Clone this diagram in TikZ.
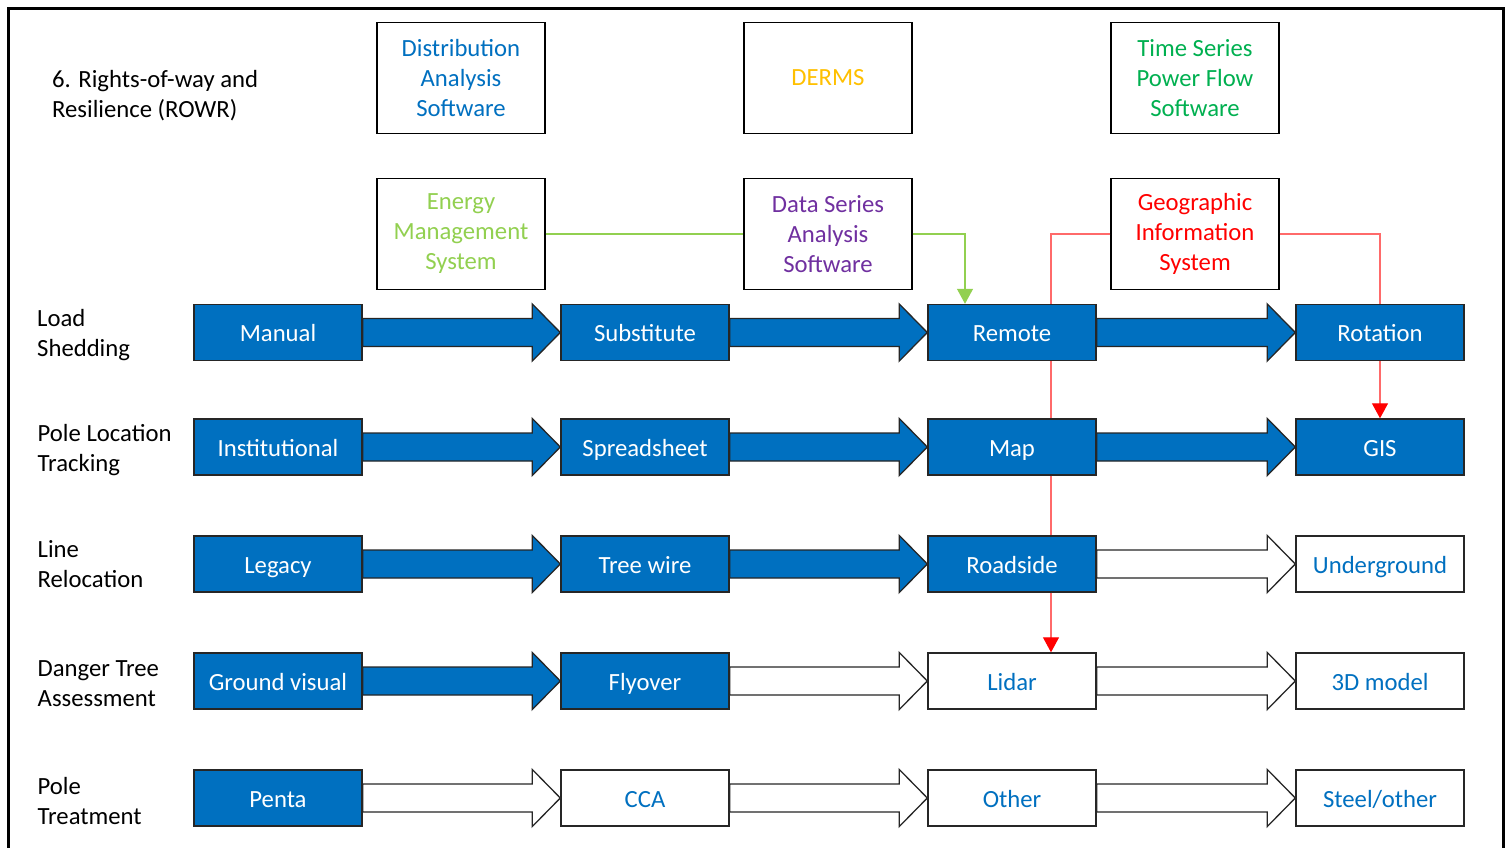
\documentclass[tikz,border=0pt]{standalone}
\usepackage{fontspec}
\setmainfont{Carlito}
\usetikzlibrary{calc,arrows.meta}
\definecolor{stageblue}{HTML}{0070C0}
\definecolor{dermsyellow}{HTML}{FFC000}
\definecolor{tsgreen}{HTML}{00B050}
\definecolor{emsgreen}{HTML}{92D050}
\definecolor{dsapurple}{HTML}{7030A0}
\definecolor{gisred}{HTML}{FF0000}
\definecolor{gisline}{HTML}{FF6A6A}

% block arrow from the east side of #2 to the west side of #3
\newcommand{\stagearrow}[3]{%
  \draw[#1] ($(#2.east)+(0,-14)$) -- ($(#3.west)+(-28,-14)$)
    -- ($(#3.west)+(-28,-28.5)$) -- (#3.west) -- ($(#3.west)+(-28,28.5)$)
    -- ($(#3.west)+(-28,14)$) -- ($(#2.east)+(0,14)$) -- cycle;}

\tikzset{
  topbox/.style={draw=black, line width=1.3pt, fill=white, minimum width=168pt,
    minimum height=111pt, align=center, inner sep=0pt},
  stagebox/.style={draw=black!85, line width=1.4pt, fill=stageblue, text=white,
    minimum width=168pt, minimum height=56pt, inner sep=0pt,
    text height=22pt, text depth=4pt},
  openbox/.style={stagebox, fill=white, text=stageblue},
  rowlabel/.style={anchor=west, align=left, inner sep=0pt, text=black},
  filledarrow/.style={draw=black!85, line width=1.3pt, fill=stageblue, line join=miter},
  openarrow/.style={draw=black!85, line width=1.3pt, fill=white, line join=miter},
  gislink/.style={draw=gisline, line width=1.2pt},
  gisarrow/.style={gislink, -{Triangle[width=16pt,length=15pt,fill=gisred,color=gisred]}},
  emslink/.style={draw=emsgreen, line width=1.2pt},
  emsarrow/.style={emslink, -{Triangle[width=16pt,length=15pt,fill=emsgreen,color=emsgreen]}},
}

\begin{document}
\begin{tikzpicture}[x=1pt,y=-1pt,font=\fontsize{24.7}{30}\selectfont]
\path[use as bounding box] (0,0) rectangle (1510,848);

% outer frame, open at the lower edge of the page
\draw[line width=3pt, line join=miter] (8.5,850) -- (8.5,8.5) -- (1503,8.5) -- (1503,850);

% heading and row labels
\node[rowlabel] (title) at (52,96) {6. Rights-of-way and\\Resilience (ROWR)};
\node[rowlabel] (lab1) at (37,335) {Load\\Shedding};
\node[rowlabel] (lab2) at (37.5,450) {Pole Location\\Tracking};
\node[rowlabel] (lab3) at (37.5,564) {Line\\Relocation};
\node[rowlabel] (lab4) at (37.5,684) {Danger Tree\\Assessment};
\node[rowlabel] (lab5) at (37.5,801) {Pole\\Treatment};

% software / system boxes
\node[topbox, text=stageblue] (das) at (461,78) {Distribution\\Analysis\\Software};
\node[topbox, text=dermsyellow] (derms) at (828,78) {DERMS};
\node[topbox, text=tsgreen] (tsp) at (1195,78) {Time Series\\Power Flow\\Software};
\node[topbox, text=emsgreen] (ems) at (461,234) {Energy\\Management\\System};
\node[topbox, text=dsapurple] (dsa) at (828,234) {Data Series\\Analysis\\Software};
\node[topbox, text=gisred] (gis) at (1195,234) {Geographic\\Information\\System};

% Load Shedding
\node[stagebox] (manual) at (278,332.5) {Manual};
\node[stagebox] (subst) at (645,332.5) {Substitute};
\node[stagebox] (remote) at (1012,332.5) {Remote};
\node[stagebox] (rotation) at (1380,332.5) {Rotation};
% Pole Location Tracking
\node[stagebox] (instit) at (278,447) {Institutional};
\node[stagebox] (sheet) at (645,447) {Spreadsheet};
\node[stagebox] (map) at (1012,447) {Map};
\node[stagebox] (gisstage) at (1380,447) {GIS};
% Line Relocation
\node[stagebox] (legacy) at (278,564) {Legacy};
\node[stagebox] (treewire) at (645,564) {Tree wire};
\node[stagebox] (roadside) at (1012,564) {Roadside};
\node[openbox] (underground) at (1380,564) {Underground};
% Danger Tree Assessment
\node[stagebox] (ground) at (278,681) {Ground visual};
\node[stagebox] (flyover) at (645,681) {Flyover};
\node[openbox] (lidar) at (1012,681) {Lidar};
\node[openbox] (model) at (1380,681) {3D model};
% Pole Treatment
\node[stagebox] (penta) at (278,798) {Penta};
\node[openbox] (cca) at (645,798) {CCA};
\node[openbox] (other) at (1012,798) {Other};
\node[openbox] (steel) at (1380,798) {Steel/other};

% progression arrows
\stagearrow{filledarrow}{manual}{subst}
\stagearrow{filledarrow}{subst}{remote}
\stagearrow{filledarrow}{remote}{rotation}
\stagearrow{filledarrow}{instit}{sheet}
\stagearrow{filledarrow}{sheet}{map}
\stagearrow{filledarrow}{map}{gisstage}
\stagearrow{filledarrow}{legacy}{treewire}
\stagearrow{filledarrow}{treewire}{roadside}
\stagearrow{openarrow}{roadside}{underground}
\stagearrow{filledarrow}{ground}{flyover}
\stagearrow{openarrow}{flyover}{lidar}
\stagearrow{openarrow}{lidar}{model}
\stagearrow{openarrow}{penta}{cca}
\stagearrow{openarrow}{cca}{other}
\stagearrow{openarrow}{other}{steel}

% Energy Management System -> Data Series Analysis Software -> Remote
\draw[emslink] (ems.east) -- (dsa.west);
\draw[emsarrow] (dsa.east) -| ([xshift=-47pt]remote.north);

% Geographic Information System links, left open where they pass behind stage boxes
\draw[gislink] (gis.west) -| ([xshift=39pt]remote.north);
\draw[gislink] ([xshift=39pt]remote.south) -- ([xshift=39pt]map.north);
\draw[gislink] ([xshift=39pt]map.south) -- ([xshift=39pt]roadside.north);
\draw[gisarrow] ([xshift=39pt]roadside.south) -- ([xshift=39pt]lidar.north);
\draw[gislink] (gis.east) -| (rotation.north);
\draw[gisarrow] (rotation.south) -- (gisstage.north);
\end{tikzpicture}
\end{document}
